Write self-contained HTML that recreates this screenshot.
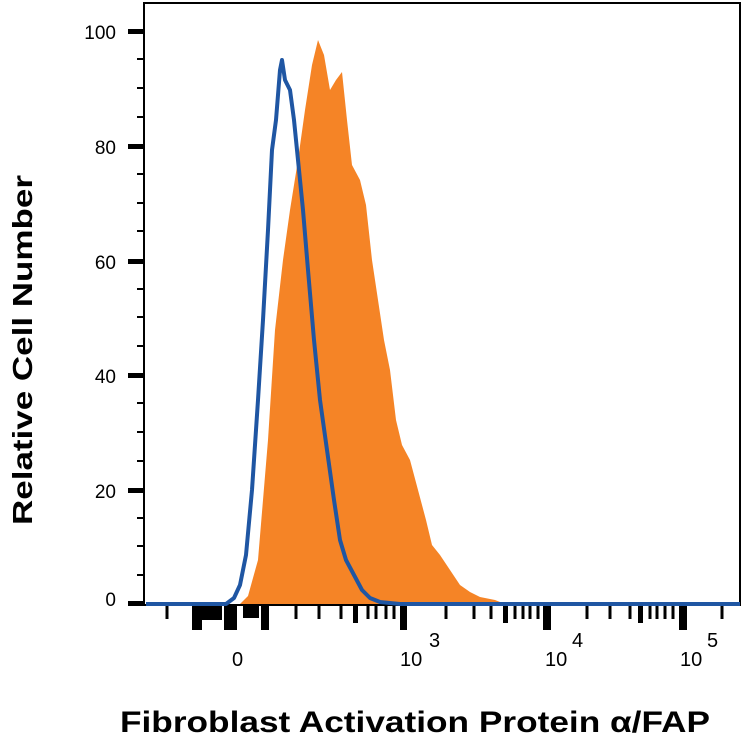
<!DOCTYPE html>
<html><head><style>body{margin:0;background:#fff}</style></head><body>
<svg width="742" height="746" viewBox="0 0 742 746" xmlns="http://www.w3.org/2000/svg" font-family="Liberation Sans, sans-serif">
<rect x="144" y="3" width="596" height="602" fill="none" stroke="#000" stroke-width="2"/>
<path d="M240,604 L248,596 L258,560 L268,440 L275,330 L283,260 L290,210 L298,160 L305,110 L312,65 L318,40 L324,55 L330,90 L336,80 L342,72 L347,120 L352,165 L360,180 L366,205 L372,260 L378,300 L384,340 L390,370 L396,420 L402,445 L410,460 L418,490 L426,520 L432,545 L440,555 L450,570 L460,585 L470,592 L480,597 L495,600 L505,604 Z" fill="#f58426"/>
<path d="M146,604 L226,604 L234,598 L240,585 L246,555 L252,490 L258,400 L263,320 L268,230 L272,150 L276,120 L280,70 L282,60 L285,80 L290,90 L294,120 L298,160 L303,210 L308,270 L314,340 L320,400 L327,450 L334,500 L340,540 L346,560 L354,575 L362,590 L370,598 L380,602 L400,604 L740,604" fill="none" stroke="#1f56a3" stroke-width="4" stroke-linejoin="round"/>
<g fill="#000">
<rect x="128" y="29" width="16" height="5"/><rect x="128" y="144" width="16" height="5"/><rect x="128" y="259" width="16" height="5"/><rect x="128" y="373" width="16" height="5"/><rect x="128" y="488" width="16" height="5"/><rect x="128" y="601" width="16" height="5"/>
</g>
<g stroke="#000" stroke-width="2">
<path d="M137,59h7M137,88h7M137,117h7M137,174h7M137,203h7M137,231h7M137,289h7M137,317h7M137,346h7M137,403h7M137,432h7M137,461h7M137,518h7M137,546h7M137,575h7"/>
</g>
<g fill="#000">
<rect x="192" y="606" width="10" height="24"/><rect x="202" y="606" width="20" height="14"/><rect x="224" y="606" width="13" height="24"/><rect x="243" y="606" width="16" height="12"/><rect x="261" y="606" width="8" height="24"/>
<rect x="400" y="606" width="7" height="24"/><rect x="543" y="606" width="8" height="24"/><rect x="679" y="606" width="8" height="24"/>
<rect x="353" y="606" width="5" height="17"/><rect x="503" y="606" width="5" height="17"/><rect x="638" y="606" width="5" height="17"/>
</g>
<g stroke="#000" stroke-width="3">
<path d="M167,606v13M296,606v13M319,606v13M341,606v13M368,606v13M376,606v13M386,606v13M394,606v13M446,606v13M474,606v13M491,606v13M515,606v13M523,606v13M530,606v13M538,606v13M587,606v13M610,606v13M630,606v13M650,606v13M657,606v13M665,606v13M673,606v13M722,606v13"/>
</g>
<g font-size="19" fill="#000" text-anchor="end">
<text x="116" y="39">100</text><text x="116" y="154">80</text><text x="116" y="269">60</text><text x="116" y="383">40</text><text x="116" y="498">20</text><text x="116" y="606">0</text>
</g>
<g font-size="20" fill="#000">
<text x="232" y="666">0</text>
<text x="400" y="666">10</text><text x="429" y="647">3</text>
<text x="545" y="666">10</text><text x="572" y="647">4</text>
<text x="680" y="666">10</text><text x="707" y="647">5</text>
</g>
<text x="415" y="732" font-size="30" font-weight="bold" text-anchor="middle" textLength="590" lengthAdjust="spacingAndGlyphs">Fibroblast Activation Protein α/FAP</text>
<text transform="translate(32,350) rotate(-90)" font-size="28" font-weight="bold" text-anchor="middle" textLength="350" lengthAdjust="spacingAndGlyphs">Relative Cell Number</text>
</svg>
</body></html>
